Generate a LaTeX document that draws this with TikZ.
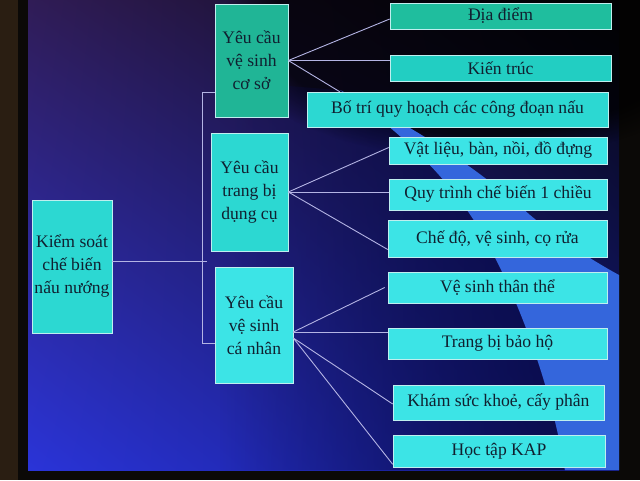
\documentclass[tikz,border=0pt]{standalone}
\usepackage{fontspec}
\setmainfont{Liberation Serif}
\usetikzlibrary{calc,shadings,fadings}
\definecolor{bezel}{HTML}{0B0907}
\definecolor{bezelL}{HTML}{2A1E12}
\definecolor{scrUL}{HTML}{301C56}
\definecolor{scrUR}{HTML}{06050C}
\definecolor{scrLL}{HTML}{2A34D8}
\definecolor{scrLR}{HTML}{141A80}
\definecolor{swoosh}{HTML}{3466DC}
\definecolor{navy}{HTML}{0A0C4C}
\definecolor{tealA}{HTML}{20B596}
\definecolor{tealDD}{HTML}{1FBE9E}
\definecolor{tealKT}{HTML}{22CEC2}
\definecolor{cyanA}{HTML}{2CD8D2}
\definecolor{cyanB}{HTML}{3CE4E6}
\definecolor{txt}{HTML}{102030}
\definecolor{wire}{HTML}{B4B4E4}
\definecolor{edge}{HTML}{BFEFEF}
\tikzfading[name=fadeleft, left color=transparent!100, middle color=transparent!80, right color=transparent!0]
\tikzset{
  box/.style={draw=edge, line width=0.6pt, fill=cyanB, text=txt, inner sep=0pt,
    align=center, font=\fontsize{17.6}{23}\selectfont},
  wireline/.style={draw=wire, line width=0.9pt}
}
\begin{document}
\begin{tikzpicture}[x=1pt,y=-1pt]
\useasboundingbox (0,0) rectangle (640,480);
% monitor bezel
\fill[bezel] (0,0) rectangle (640,480);
\fill[bezelL] (0,0) rectangle (18,480);
% screen
\shade[upper left=scrUL, upper right=scrUR, lower left=scrLL, lower right=scrLR]
  (28,0) rectangle (619,470);
\fill[black, opacity=0.7, path fading=circle with fuzzy edge 20 percent]
  (480,30) ellipse [x radius=260pt, y radius=130pt];
% dark shadow band left of swoosh
\fill[navy, opacity=0.95, path fading=fadeleft] (220,80) -- (340,90)
  .. controls (400,130) and (450,180) .. (480,230)
  .. controls (515,290) and (550,380) .. (565,470) -- (220,470) -- cycle;
% lighter swoosh
\fill[swoosh] (340,90) .. controls (420,130) and (480,170) .. (530,215)
  .. controls (560,240) and (595,262) .. (619,275) -- (619,470) -- (565,470)
  .. controls (550,380) and (515,290) .. (480,230)
  .. controls (450,180) and (400,130) .. (340,90) -- cycle;
% root and middle boxes
\node[box, minimum width=80pt, minimum height=133pt, fill=cyanA] (root) at (72,266.5) {Kiểm soát\\chế biến\\nấu nướng};
\node[box, minimum width=73pt, minimum height=113pt, fill=tealA] (A) at (251.5,60.5) {Yêu cầu\\vệ sinh\\cơ sở};
\node[box, minimum width=77pt, minimum height=118pt, fill=cyanA] (B) at (249.5,192) {Yêu cầu\\trang bị\\dụng cụ};
\node[box, minimum width=78pt, minimum height=116pt] (C) at (254,325) {Yêu cầu\\vệ sinh\\cá nhân};
% leaf boxes
\node[box, minimum width=221pt, minimum height=26pt, fill=tealDD] (dd) at (500.5,16) {Địa điểm};
\node[box, minimum width=221pt, minimum height=26pt, fill=tealKT] (kt) at (500.5,68) {Kiến trúc};
\node[box, minimum width=301pt, minimum height=35pt, fill=cyanA] (bt) at (457.5,109.5) {Bố trí quy hoạch các công đoạn nấu};
\node[box, minimum width=218pt, minimum height=27pt] (vl) at (498,150.5) {Vật liệu, bàn, nồi, đồ đựng};
\node[box, minimum width=218pt, minimum height=31pt] (qt) at (498,194.5) {Quy trình chế biến 1 chiều};
\node[box, minimum width=219pt, minimum height=37pt] (cd) at (497.5,238.5) {Chế độ, vệ sinh, cọ rửa};
\node[box, minimum width=219pt, minimum height=31pt] (vs) at (497.5,287.5) {Vệ sinh thân thể};
\node[box, minimum width=219pt, minimum height=31pt] (bh) at (497.5,343.5) {Trang bị bảo hộ};
\node[box, minimum width=211pt, minimum height=35pt] (ks) at (498.5,402.5) {Khám sức khoẻ, cấy phân};
\node[box, minimum width=212pt, minimum height=32pt] (hk) at (499,451) {Học tập KAP};
% trunk connectors
\coordinate (j) at (202,261);
\coordinate (jt) at (202,92);
\coordinate (jb) at (202,343);
\draw[wireline] (root.east |- j) -- ($(j)+(5,0)$);
\draw[wireline] (A.west |- jt) -- (jt) -- (jb) -- (C.west |- jb);
% branch A
\draw[wireline] (A.east) -- ($(dd.west)+(0,3)$);
\draw[wireline] (A.east) -- (A.east -| kt.west);
\draw[wireline] (A.east) -- ($(bt.north west)+(33,0)$);
% branch B
\draw[wireline] (B.east) -- ($(vl.west)+(0,-3)$);
\draw[wireline] (B.east) -- (B.east -| qt.west);
\draw[wireline] (B.east) -- ($(cd.west)+(0,11)$);
% branch C
\coordinate (co1) at ($(C.east)+(0,7)$);
\coordinate (co2) at ($(C.east)+(0,13)$);
\coordinate (vsend) at ($(vs.west)+(-3,0)$);
\draw[wireline] (co1) -- (vsend);
\draw[wireline] (co1) -- (co1 -| bh.west);
\draw[wireline] (co2) -- ($(ks.west)+(0,1.5)$);
\draw[wireline] (co2) -- ($(hk.south west)+(0,-3)$);
\end{tikzpicture}
\end{document}
